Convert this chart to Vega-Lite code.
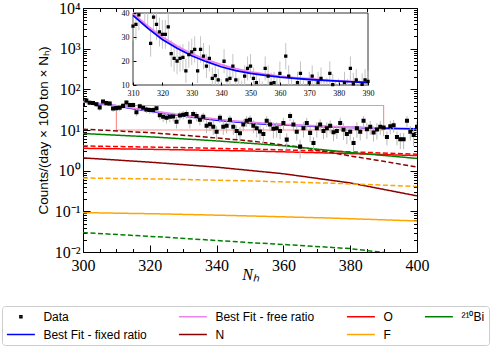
{
  "$schema": "https://vega.github.io/schema/vega-lite/v6.json",
  "width": 334,
  "height": 244,
  "autosize": {"type": "none"},
  "padding": {"left": 83, "top": 8, "right": 73, "bottom": 97},
  "background": "white",
  "datasets": {
    "pts": [
      {"N":300,"v":41,"lo":34.5,"hi":47.5},{"N":301,"v":53,"lo":46.5,"hi":59.5},{"N":302,"v":47,"lo":40.5,"hi":53.5},{"N":303,"v":46,"lo":39.5,"hi":52.5},{"N":304,"v":43,"lo":36.5,"hi":49.5},
      {"N":305,"v":36,"lo":29.5,"hi":42.5},{"N":306,"v":50,"lo":43.5,"hi":56.5},{"N":307,"v":46,"lo":39.5,"hi":52.5},{"N":308,"v":45,"lo":38.5,"hi":51.5},{"N":309,"v":34,"lo":28,"hi":40},
      {"N":310,"v":34.5,"lo":28.5,"hi":40.5},{"N":311,"v":35.3,"lo":28.8,"hi":41.8},{"N":312,"v":39.2,"lo":32.7,"hi":45.7},{"N":313,"v":47.6,"lo":41.1,"hi":54.1},{"N":314,"v":41,"lo":34.5,"hi":47.5},
      {"N":315,"v":41,"lo":34.5,"hi":47.5},{"N":316,"v":27.3,"lo":21.8,"hi":32.8},{"N":317,"v":38.3,"lo":31.8,"hi":44.8},{"N":318,"v":35.3,"lo":28.8,"hi":41.8},{"N":319,"v":32.1,"lo":26.1,"hi":38.1},
      {"N":320,"v":31.1,"lo":25.1,"hi":37.1},{"N":321,"v":31.1,"lo":25.1,"hi":37.1},{"N":322,"v":34.2,"lo":28.2,"hi":40.2},{"N":323,"v":23.1,"lo":17.6,"hi":28.6},{"N":324,"v":21.1,"lo":15.6,"hi":26.6},
      {"N":325,"v":20,"lo":14.5,"hi":25.5},{"N":326,"v":21.1,"lo":15.6,"hi":26.6},{"N":327,"v":21.5,"lo":16,"hi":27},{"N":328,"v":15.9,"lo":10.9,"hi":20.9},{"N":329,"v":22.7,"lo":17.2,"hi":28.2},
      {"N":330,"v":23.8,"lo":18.3,"hi":29.3},{"N":331,"v":24.8,"lo":19.3,"hi":30.3},{"N":332,"v":15.9,"lo":10.9,"hi":20.9},{"N":333,"v":24.8,"lo":19.3,"hi":30.3},{"N":334,"v":22.0,"lo":16.5,"hi":27.5},
      {"N":335,"v":17.9,"lo":12.9,"hi":22.9},{"N":336,"v":21.1,"lo":15.6,"hi":26.6},{"N":337,"v":12.8,"lo":8.3,"hi":17.3},{"N":338,"v":13.9,"lo":9.4,"hi":18.4},{"N":339,"v":12.1,"lo":7.6,"hi":16.6},
      {"N":340,"v":9.0,"lo":5.5,"hi":12.5},{"N":341,"v":19.9,"lo":14.9,"hi":24.9},{"N":342,"v":12.1,"lo":7.6,"hi":16.6},{"N":343,"v":12.8,"lo":8.3,"hi":17.3},{"N":344,"v":17.9,"lo":12.9,"hi":22.9},
      {"N":345,"v":12.1,"lo":7.6,"hi":16.6},{"N":346,"v":9.5,"lo":6,"hi":13},{"N":347,"v":8.3,"lo":4.8,"hi":11.8},{"N":348,"v":13.7,"lo":9.2,"hi":18.2},{"N":349,"v":16.9,"lo":11.9,"hi":21.9},
      {"N":350,"v":17.9,"lo":12.9,"hi":22.9},{"N":351,"v":12.8,"lo":8.3,"hi":17.3},{"N":352,"v":11.0,"lo":6.5,"hi":15.5},{"N":353,"v":9.2,"lo":5.7,"hi":12.7},{"N":354,"v":8.0,"lo":4.5,"hi":11.5},
      {"N":355,"v":16.9,"lo":11.9,"hi":21.9},{"N":356,"v":13.7,"lo":9.2,"hi":18.2},{"N":357,"v":10.7,"lo":6.2,"hi":15.2},{"N":358,"v":11.0,"lo":6.5,"hi":15.5},{"N":359,"v":9.4,"lo":5.9,"hi":12.9},
      {"N":360,"v":14.8,"lo":9.8,"hi":19.8},{"N":361,"v":5.8,"lo":3.3,"hi":8.3},{"N":362,"v":22.0,"lo":16.5,"hi":27.5},{"N":363,"v":13.7,"lo":9.2,"hi":18.2},{"N":364,"v":9.0,"lo":5.5,"hi":12.5},
      {"N":365,"v":3.9,"lo":2.0,"hi":5.8},{"N":366,"v":11.0,"lo":6.5,"hi":15.5},{"N":367,"v":14.8,"lo":9.8,"hi":19.8},{"N":368,"v":8.5,"lo":5,"hi":12},{"N":369,"v":4.8,"lo":2.9,"hi":6.7},
      {"N":370,"v":11.0,"lo":6.5,"hi":15.5},{"N":371,"v":13.7,"lo":9.2,"hi":18.2},{"N":372,"v":9.5,"lo":6,"hi":13},{"N":373,"v":11.0,"lo":6.5,"hi":15.5},{"N":374,"v":12.8,"lo":8.3,"hi":17.3},
      {"N":375,"v":8.8,"lo":5.3,"hi":12.3},{"N":376,"v":9.5,"lo":6,"hi":13},{"N":377,"v":14.8,"lo":9.8,"hi":19.8},{"N":378,"v":10.2,"lo":5.7,"hi":14.7},{"N":379,"v":8.0,"lo":4.5,"hi":11.5},
      {"N":380,"v":9.0,"lo":5.5,"hi":12.5},{"N":381,"v":4.8,"lo":2.9,"hi":6.7},{"N":382,"v":11.0,"lo":6.5,"hi":15.5},{"N":383,"v":9.0,"lo":5.5,"hi":12.5},{"N":384,"v":16.9,"lo":11.9,"hi":21.9},
      {"N":385,"v":10.5,"lo":6,"hi":15},{"N":386,"v":12.1,"lo":7.6,"hi":16.6},{"N":387,"v":8.7,"lo":5.2,"hi":12.2},{"N":388,"v":10.3,"lo":5.8,"hi":14.8},{"N":389,"v":12.1,"lo":7.6,"hi":16.6},
      {"N":390,"v":11.5,"lo":7,"hi":16},{"N":391,"v":6.7,"lo":4.2,"hi":9.2},{"N":392,"v":12.4,"lo":7.9,"hi":16.9},{"N":393,"v":13.1,"lo":8.6,"hi":17.6},{"N":394,"v":6.7,"lo":4.2,"hi":9.2},
      {"N":395,"v":5.9,"lo":3.4,"hi":8.4},{"N":396,"v":5.9,"lo":3.4,"hi":8.4},{"N":397,"v":16.8,"lo":11.8,"hi":21.8},{"N":398,"v":9.0,"lo":5.5,"hi":12.5},{"N":399,"v":7.5,"lo":4,"hi":11},
      {"N":400,"v":12,"lo":7.5,"hi":16.5}
    ],
    "lines": [
      {"comp":"Best Fit - fixed ratio","style":"solid","N":300,"v":49},{"comp":"Best Fit - fixed ratio","style":"solid","N":305,"v":44},{"comp":"Best Fit - fixed ratio","style":"solid","N":310,"v":39},
      {"comp":"Best Fit - fixed ratio","style":"solid","N":315,"v":33.7},{"comp":"Best Fit - fixed ratio","style":"solid","N":320,"v":29},{"comp":"Best Fit - fixed ratio","style":"solid","N":325,"v":25.3},
      {"comp":"Best Fit - fixed ratio","style":"solid","N":330,"v":22.2},{"comp":"Best Fit - fixed ratio","style":"solid","N":335,"v":19.7},{"comp":"Best Fit - fixed ratio","style":"solid","N":340,"v":17.6},
      {"comp":"Best Fit - fixed ratio","style":"solid","N":345,"v":16.0},{"comp":"Best Fit - fixed ratio","style":"solid","N":350,"v":14.8},{"comp":"Best Fit - fixed ratio","style":"solid","N":355,"v":14.0},
      {"comp":"Best Fit - fixed ratio","style":"solid","N":360,"v":13.3},{"comp":"Best Fit - fixed ratio","style":"solid","N":365,"v":12.8},{"comp":"Best Fit - fixed ratio","style":"solid","N":370,"v":12.3},
      {"comp":"Best Fit - fixed ratio","style":"solid","N":375,"v":11.9},{"comp":"Best Fit - fixed ratio","style":"solid","N":380,"v":11.6},{"comp":"Best Fit - fixed ratio","style":"solid","N":385,"v":11.3},
      {"comp":"Best Fit - fixed ratio","style":"solid","N":390,"v":11.05},{"comp":"Best Fit - fixed ratio","style":"solid","N":395,"v":10.85},{"comp":"Best Fit - fixed ratio","style":"solid","N":400,"v":10.7},
      {"comp":"Best Fit - free ratio","style":"solid","N":300,"v":49.5},{"comp":"Best Fit - free ratio","style":"solid","N":305,"v":44.7},{"comp":"Best Fit - free ratio","style":"solid","N":310,"v":39.8},
      {"comp":"Best Fit - free ratio","style":"solid","N":315,"v":34.6},{"comp":"Best Fit - free ratio","style":"solid","N":320,"v":30.0},{"comp":"Best Fit - free ratio","style":"solid","N":325,"v":26.2},
      {"comp":"Best Fit - free ratio","style":"solid","N":330,"v":23.0},{"comp":"Best Fit - free ratio","style":"solid","N":335,"v":20.6},{"comp":"Best Fit - free ratio","style":"solid","N":340,"v":18.5},
      {"comp":"Best Fit - free ratio","style":"solid","N":345,"v":16.8},{"comp":"Best Fit - free ratio","style":"solid","N":350,"v":15.5},{"comp":"Best Fit - free ratio","style":"solid","N":355,"v":14.5},
      {"comp":"Best Fit - free ratio","style":"solid","N":360,"v":13.7},{"comp":"Best Fit - free ratio","style":"solid","N":365,"v":13.1},{"comp":"Best Fit - free ratio","style":"solid","N":370,"v":12.6},
      {"comp":"Best Fit - free ratio","style":"solid","N":375,"v":12.1},{"comp":"Best Fit - free ratio","style":"solid","N":380,"v":11.7},{"comp":"Best Fit - free ratio","style":"solid","N":385,"v":11.4},
      {"comp":"Best Fit - free ratio","style":"solid","N":390,"v":11.1},
      {"comp":"O","style":"solid","N":300,"v":3.55},{"comp":"O","style":"solid","N":325,"v":3.3},{"comp":"O","style":"solid","N":350,"v":3.05},{"comp":"O","style":"solid","N":375,"v":2.7},{"comp":"O","style":"solid","N":400,"v":2.35},
      {"comp":"O","style":"dashed","N":300,"v":4.05},{"comp":"O","style":"dashed","N":325,"v":3.75},{"comp":"O","style":"dashed","N":350,"v":3.4},{"comp":"O","style":"dashed","N":375,"v":3.0},{"comp":"O","style":"dashed","N":400,"v":2.55},
      {"comp":"N","style":"solid","N":300,"v":2.06},{"comp":"N","style":"solid","N":320,"v":1.62},{"comp":"N","style":"solid","N":340,"v":1.22},{"comp":"N","style":"solid","N":360,"v":0.84},{"comp":"N","style":"solid","N":380,"v":0.5},{"comp":"N","style":"solid","N":400,"v":0.24},
      {"comp":"N","style":"dashed","N":300,"v":10.5},{"comp":"N","style":"dashed","N":320,"v":8.6},{"comp":"N","style":"dashed","N":335,"v":6.9},{"comp":"N","style":"dashed","N":350,"v":5.4},{"comp":"N","style":"dashed","N":365,"v":3.8},{"comp":"N","style":"dashed","N":380,"v":2.3},{"comp":"N","style":"dashed","N":390,"v":1.7},{"comp":"N","style":"dashed","N":400,"v":1.23},
      {"comp":"F","style":"solid","N":300,"v":0.093},{"comp":"F","style":"solid","N":325,"v":0.086},{"comp":"F","style":"solid","N":350,"v":0.077},{"comp":"F","style":"solid","N":375,"v":0.068},{"comp":"F","style":"solid","N":400,"v":0.058},
      {"comp":"F","style":"dashed","N":300,"v":0.66},{"comp":"F","style":"dashed","N":325,"v":0.62},{"comp":"F","style":"dashed","N":350,"v":0.56},{"comp":"F","style":"dashed","N":375,"v":0.49},{"comp":"F","style":"dashed","N":400,"v":0.41},
      {"comp":"²¹⁰Bi","style":"solid","N":300,"v":8.2},{"comp":"²¹⁰Bi","style":"solid","N":320,"v":6.8},{"comp":"²¹⁰Bi","style":"solid","N":340,"v":5.4},{"comp":"²¹⁰Bi","style":"solid","N":360,"v":4.1},{"comp":"²¹⁰Bi","style":"solid","N":380,"v":2.8},{"comp":"²¹⁰Bi","style":"solid","N":400,"v":2.0},
      {"comp":"²¹⁰Bi","style":"dashed","N":300,"v":0.030},{"comp":"²¹⁰Bi","style":"dashed","N":325,"v":0.023},{"comp":"²¹⁰Bi","style":"dashed","N":350,"v":0.017},{"comp":"²¹⁰Bi","style":"dashed","N":365,"v":0.0145},{"comp":"²¹⁰Bi","style":"dashed","N":380,"v":0.0121},{"comp":"²¹⁰Bi","style":"dashed","N":400,"v":0.0078}
    ]
  },
  "config": {
    "view": {"stroke": "black", "strokeWidth": 1},
    "axis": {"grid": false, "domainColor": "black", "tickColor": "black", "labelColor": "black", "titleColor": "black", "labelOverlap": false, "labelFlush": false, "titleFontWeight": "normal"},
    "legend": {"orient": "none", "legendX": -81, "legendY": 298, "columns": 4, "labelFont": "Liberation Sans", "labelFontSize": 12, "labelColor": "black", "symbolSize": 125, "symbolStrokeWidth": 1.5, "symbolOffset": 8.4, "columnPadding": 28, "rowPadding": 5, "padding": 4, "strokeColor": "#cccccc", "cornerRadius": 3, "fillColor": "white", "labelOffset": 16}
  },
  "layer": [
    {
      "data": {"values": [{}]},
      "mark": {"type": "rect", "fillOpacity": 0, "stroke": "#ff9090", "strokeWidth": 1.2},
      "encoding": {
        "x": {"datum": 310, "type": "quantitative", "scale": {"domain": [300, 400], "nice": false, "zero": false}, "axis": null},
        "x2": {"datum": 390},
        "y": {"datum": 10, "type": "quantitative", "scale": {"type": "log", "domain": [0.01, 10000], "nice": false}, "axis": null},
        "y2": {"datum": 40}
      }
    },
    {
      "data": {"name": "lines"},
      "transform": [{"filter": {"field": "comp", "oneOf": ["O", "N", "F", "²¹⁰Bi"]}}],
      "mark": {"type": "line", "clip": true, "strokeWidth": 1.5},
      "encoding": {
        "x": {"field": "N", "type": "quantitative", "scale": {"domain": [300, 400], "nice": false, "zero": false},
          "axis": {"orient": "bottom", "values": [300,305,310,315,320,325,330,335,340,345,350,355,360,365,370,375,380,385,390,395,400],
            "labelExpr": "datum.value % 20 === 0 ? datum.label : ''",
            "tickSize": {"condition": {"test": "datum.value % 20 === 0", "value": -7}, "value": -3.5},
            "labelPadding": 12, "labelFont": "Liberation Serif", "labelFontSize": 16,
            "title": "Nₕ", "titleFont": "Liberation Serif", "titleFontStyle": "italic", "titleFontSize": 16, "titlePadding": -10}},
        "y": {"field": "v", "type": "quantitative", "scale": {"type": "log", "domain": [0.01, 10000], "nice": false},
          "axis": {"orient": "left", "values": [0.01,0.02,0.03,0.04,0.05,0.06,0.07,0.08,0.09,0.1,0.2,0.3,0.4,0.5,0.6,0.7,0.8,0.9,1,2,3,4,5,6,7,8,9,10,20,30,40,50,60,70,80,90,100,200,300,400,500,600,700,800,900,1000,2000,3000,4000,5000,6000,7000,8000,9000,10000],
            "labelExpr": "datum.value == 0.01 ? '10⁻²' : datum.value == 0.1 ? '10⁻¹' : datum.value == 1 ? '10⁰' : datum.value == 10 ? '10¹' : datum.value == 100 ? '10²' : datum.value == 1000 ? '10³' : datum.value == 10000 ? '10⁴' : ''",
            "tickSize": {"condition": {"test": "indexof([0.01,0.1,1,10,100,1000,10000], datum.value) >= 0", "value": -7}, "value": -3.5},
            "labelPadding": 10, "labelFont": "Liberation Serif", "labelFontSize": 16,
            "title": "Counts/(day × 100 ton × Nₕ)", "titleFont": "Liberation Sans", "titleFontSize": 13.5, "titlePadding": 4}},
        "color": {"field": "comp", "type": "nominal", "title": null,
          "scale": {"domain": ["Data", "Best Fit - fixed ratio", "Best Fit - free ratio", "N", "O", "F", "²¹⁰Bi"], "range": ["black", "#0000ff", "#ee82ee", "#8b0000", "#ff0000", "#ffa500", "#008000"]}},
        "strokeDash": {"field": "style", "type": "nominal", "legend": null, "scale": {"domain": ["solid", "dashed"], "range": [[1, 0], [5, 2.5]]}}
      }
    },
    {
      "data": {"name": "lines"},
      "transform": [{"filter": {"field": "comp", "equal": "Best Fit - fixed ratio"}}],
      "mark": {"type": "line", "clip": true, "strokeWidth": 1.8},
      "encoding": {
        "x": {"field": "N", "type": "quantitative", "scale": {"domain": [300, 400], "nice": false, "zero": false},
          "axis": {"orient": "top", "values": [300,305,310,315,320,325,330,335,340,345,350,355,360,365,370,375,380,385,390,395,400], "labels": false, "title": null,
            "tickSize": {"condition": {"test": "datum.value % 20 === 0", "value": -7}, "value": -3.5}}},
        "y": {"field": "v", "type": "quantitative", "scale": {"type": "log", "domain": [0.01, 10000], "nice": false},
          "axis": {"orient": "right", "values": [0.01,0.02,0.03,0.04,0.05,0.06,0.07,0.08,0.09,0.1,0.2,0.3,0.4,0.5,0.6,0.7,0.8,0.9,1,2,3,4,5,6,7,8,9,10,20,30,40,50,60,70,80,90,100,200,300,400,500,600,700,800,900,1000,2000,3000,4000,5000,6000,7000,8000,9000,10000], "labels": false, "title": null,
            "tickSize": {"condition": {"test": "indexof([0.01,0.1,1,10,100,1000,10000], datum.value) >= 0", "value": -7}, "value": -3.5}}},
        "color": {"field": "comp", "type": "nominal", "title": null,
          "scale": {"domain": ["Data", "Best Fit - fixed ratio", "Best Fit - free ratio", "N", "O", "F", "²¹⁰Bi"], "range": ["black", "#0000ff", "#ee82ee", "#8b0000", "#ff0000", "#ffa500", "#008000"]}}
      }
    },
    {
      "data": {"name": "lines"},
      "transform": [{"filter": {"field": "comp", "equal": "Best Fit - free ratio"}}],
      "mark": {"type": "line", "clip": true, "strokeWidth": 1.8},
      "encoding": {
        "x": {"field": "N", "type": "quantitative", "scale": {"domain": [300, 400], "nice": false, "zero": false}, "axis": null},
        "y": {"field": "v", "type": "quantitative", "scale": {"type": "log", "domain": [0.01, 10000], "nice": false}, "axis": null},
        "color": {"field": "comp", "type": "nominal", "title": null,
          "scale": {"domain": ["Data", "Best Fit - fixed ratio", "Best Fit - free ratio", "N", "O", "F", "²¹⁰Bi"], "range": ["black", "#0000ff", "#ee82ee", "#8b0000", "#ff0000", "#ffa500", "#008000"]}}
      }
    },
    {
      "data": {"name": "pts"},
      "mark": {"type": "rule", "color": "#b8b8b8", "strokeWidth": 1, "clip": true},
      "encoding": {
        "x": {"field": "N", "type": "quantitative", "scale": {"domain": [300, 400], "nice": false, "zero": false}, "axis": null},
        "y": {"field": "lo", "type": "quantitative", "scale": {"type": "log", "domain": [0.01, 10000], "nice": false}, "axis": null},
        "y2": {"field": "hi"}
      }
    },
    {
      "data": {"name": "pts"},
      "mark": {"type": "point", "filled": false, "strokeWidth": 2, "size": 125, "opacity": 1, "clip": true},
      "encoding": {
        "x": {"field": "N", "type": "quantitative", "scale": {"domain": [300, 400], "nice": false, "zero": false}, "axis": null},
        "y": {"field": "v", "type": "quantitative", "scale": {"type": "log", "domain": [0.01, 10000], "nice": false}, "axis": null},
        "color": {"datum": "Data", "type": "nominal", "title": null,
          "scale": {"domain": ["Data", "Best Fit - fixed ratio", "Best Fit - free ratio", "N", "O", "F", "²¹⁰Bi"], "range": ["black", "#0000ff", "#ee82ee", "#8b0000", "#ff0000", "#ffa500", "#008000"]}},
        "shape": {"datum": "Data", "type": "nominal", "title": null,
          "scale": {"domain": ["Data", "Best Fit - fixed ratio", "Best Fit - free ratio", "N", "O", "F", "²¹⁰Bi"], "range": ["M-0.18,-0.18H0.18V0.18H-0.18Z", "M-2.5,0H2.5", "M-2.5,0H2.5", "M-2.5,0H2.5", "M-2.5,0H2.5", "M-2.5,0H2.5", "M-2.5,0H2.5"]}}
      }
    },
    {
      "data": {"values": [{}]},
      "mark": {"type": "rect", "fill": "white", "stroke": "black", "strokeWidth": 0.8},
      "encoding": {
        "x": {"datum": 310, "type": "quantitative", "scale": {"domain": [310, 390], "range": [50, 285], "nice": false, "zero": false}, "axis": null},
        "x2": {"datum": 390},
        "y": {"datum": 10, "type": "quantitative", "scale": {"domain": [10, 40], "range": [77, 5], "nice": false, "zero": false}, "axis": null},
        "y2": {"datum": 40}
      }
    },
    {
      "data": {"name": "pts"},
      "transform": [{"filter": "datum.N >= 310 && datum.N <= 390 && datum.hi >= 10 && datum.lo <= 40"}],
      "mark": {"type": "rule", "color": "#c4c4c4", "strokeWidth": 1},
      "encoding": {
        "x": {"field": "N", "type": "quantitative", "scale": {"domain": [310, 390], "range": [50, 285], "nice": false, "zero": false},
          "axis": {"orient": "bottom", "offset": -167, "zindex": 2, "values": [310,320,330,340,350,360,370,380,390], "tickSize": -3, "labelPadding": 7, "labelFont": "Liberation Serif", "labelFontSize": 8, "title": null, "domain": false}},
        "y": {"field": "lo", "type": "quantitative", "scale": {"domain": [10, 40], "range": [77, 5], "nice": false, "zero": false, "clamp": true},
          "axis": {"orient": "left", "offset": -50, "zindex": 2, "values": [10,20,30,40], "tickSize": -3, "labelPadding": 7, "labelFont": "Liberation Serif", "labelFontSize": 8, "title": null, "domain": false}},
        "y2": {"field": "hi"}
      }
    },
    {
      "data": {"name": "lines"},
      "transform": [{"filter": "datum.comp == 'Best Fit - free ratio' && datum.N >= 310 && datum.N <= 390"}],
      "mark": {"type": "line", "color": "#ee82ee", "strokeWidth": 1.8},
      "encoding": {
        "x": {"field": "N", "type": "quantitative", "scale": {"domain": [310, 390], "range": [50, 285], "nice": false, "zero": false}, "axis": null},
        "y": {"field": "v", "type": "quantitative", "scale": {"domain": [10, 40], "range": [77, 5], "nice": false, "zero": false, "clamp": true}, "axis": null}
      }
    },
    {
      "data": {"name": "lines"},
      "transform": [{"filter": "datum.comp == 'Best Fit - fixed ratio' && datum.N >= 310 && datum.N <= 390"}],
      "mark": {"type": "line", "color": "#0000ff", "strokeWidth": 1.8},
      "encoding": {
        "x": {"field": "N", "type": "quantitative", "scale": {"domain": [310, 390], "range": [50, 285], "nice": false, "zero": false}, "axis": null},
        "y": {"field": "v", "type": "quantitative", "scale": {"domain": [10, 40], "range": [77, 5], "nice": false, "zero": false, "clamp": true}, "axis": null}
      }
    },
    {
      "data": {"name": "pts"},
      "transform": [{"filter": "datum.N >= 310 && datum.N <= 390 && datum.v >= 10 && datum.v <= 40"}],
      "mark": {"type": "point", "filled": false, "stroke": "black", "strokeWidth": 1.6, "size": 125, "opacity": 1, "shape": "M-0.15,-0.15H0.15V0.15H-0.15Z"},
      "encoding": {
        "x": {"field": "N", "type": "quantitative", "scale": {"domain": [310, 390], "range": [50, 285], "nice": false, "zero": false}, "axis": null},
        "y": {"field": "v", "type": "quantitative", "scale": {"domain": [10, 40], "range": [77, 5], "nice": false, "zero": false}, "axis": null}
      }
    }
  ],
  "resolve": {"scale": {"x": "independent", "y": "independent"}}
}
